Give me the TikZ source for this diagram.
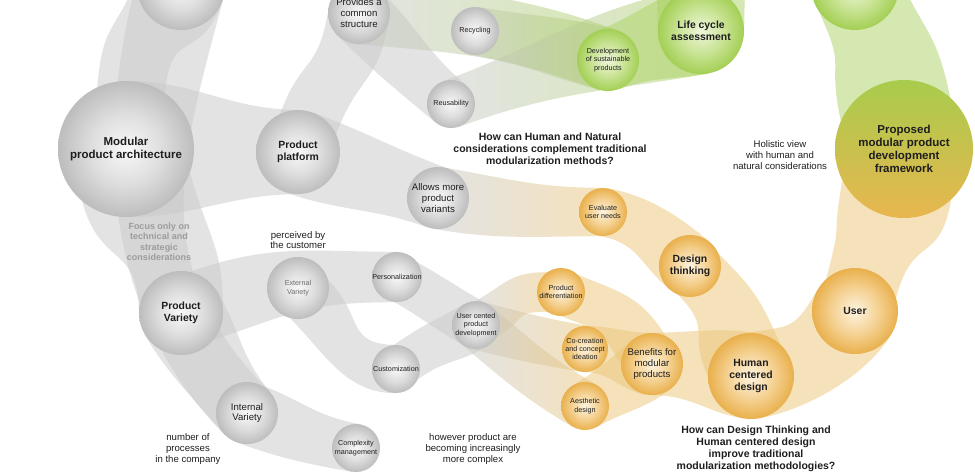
\documentclass[tikz,border=0pt]{standalone}
\usepackage{fontspec}
\setmainfont{Liberation Sans}
\usetikzlibrary{calc}

\definecolor{ink}{HTML}{1E1E1E}
\definecolor{greyhi}{HTML}{F8F8F8}
\definecolor{greymid}{HTML}{DEDEDE}
\definecolor{greylo}{HTML}{BDBDBD}
\definecolor{greenhi}{HTML}{EEF6DC}
\definecolor{greenmid}{HTML}{CAE496}
\definecolor{greenlo}{HTML}{A3CF54}
\definecolor{orangehi}{HTML}{FDF4E1}
\definecolor{orangemid}{HTML}{F5D396}
\definecolor{orangelo}{HTML}{E9B04C}
\definecolor{pfgreen}{HTML}{A8CC4C}
\definecolor{pfyellow}{HTML}{C9C24E}
\definecolor{pforange}{HTML}{E8B64F}
\definecolor{bandgrey}{RGB}{200,200,200}
\definecolor{bandgreen}{RGB}{172,210,100}
\definecolor{bandorange}{RGB}{235,197,119}
\definecolor{notegrey}{HTML}{9C9C9C}

\pgfdeclareradialshading{greyball}{\pgfpoint{0bp}{0bp}}{color(0bp)=(greyhi); color(13bp)=(greymid); color(25bp)=(greylo); color(50bp)=(greylo)}
\pgfdeclareradialshading{greenball}{\pgfpoint{0bp}{0bp}}{color(0bp)=(greenhi); color(13bp)=(greenmid); color(25bp)=(greenlo); color(50bp)=(greenlo)}
\pgfdeclareradialshading{orangeball}{\pgfpoint{0bp}{0bp}}{color(0bp)=(orangehi); color(13bp)=(orangemid); color(25bp)=(orangelo); color(50bp)=(orangelo)}

\pgfdeclarelayer{bands}
\pgfsetlayers{bands,main}

% ribbon between two circles: [style]{from}{to}{leave angle}{half spread}{arrive angle}{half spread}
\newcommand{\band}[7][greyband]{%
  \pgfmathtruncatemacro\bandAl{#4+#5}%
  \pgfmathtruncatemacro\bandAr{#4-#5}%
  \pgfmathtruncatemacro\bandBl{#6+#7}%
  \pgfmathtruncatemacro\bandBr{#6-#7}%
  \path[#1] let \p1=(#2.center), \p2=(#3.center),
      \n1={0.4*veclen(\x2-\x1,\y2-\y1)} in
    (#2.\bandAl) .. controls +(#4:\n1) and +(#6+180:\n1) .. (#3.\bandBl)
    -- (#3.\bandBr) .. controls +(#6+180:\n1) and +(#4:\n1) .. (#2.\bandAr) -- cycle;}

\begin{document}
\begin{tikzpicture}[
    x=1pt, y=1pt,
    greyband/.style={fill=bandgrey, fill opacity=0.5},
    greenband/.style={fill=bandgreen, fill opacity=0.5},
    orangeband/.style={fill=bandorange, fill opacity=0.5},
    togreen/.style={left color=bandgrey, right color=bandgreen, fill opacity=0.5},
    toorange/.style={left color=bandgrey, right color=bandorange, fill opacity=0.5},
    bub/.style={circle, inner sep=0pt, align=center, text=ink, minimum size=#1},
    greybub/.style={bub=#1, shade, shading=greyball},
    greenbub/.style={bub=#1, shade, shading=greenball},
    orangebub/.style={bub=#1, shade, shading=orangeball},
    framebub/.style={bub=138, top color=pfgreen, middle color=pfyellow, bottom color=pforange},
    hugetxt/.style={font=\fontsize{11.5}{13}\selectfont\bfseries},
    bigtxt/.style={font=\fontsize{10.4}{12}\selectfont\bfseries},
    midtxt/.style={font=\fontsize{9.6}{10.7}\selectfont},
    smalltxt/.style={font=\fontsize{7.2}{8.4}\selectfont},
    qtxt/.style={align=center, text=ink, font=\fontsize{10.5}{12}\selectfont\bfseries},
    notetxt/.style={align=center, text=ink, font=\fontsize{9.6}{10.7}\selectfont}
]
\useasboundingbox (0,0) rectangle (975,-472);
\clip (0,0) rectangle (975,-472);

% grey circles
\node[greybub=88] (upleft) at (181,14) {};
\node[greybub=62, midtxt] (common) at (359,-13) {Provides a\\common\\structure};
\node[greybub=48, smalltxt] (recyc) at (475,-31) {Recycling};
\node[greybub=48, smalltxt] (reuse) at (451,-104) {Reusability};
\node[greybub=136, hugetxt] (mpa) at (126,-149) {Modular\\product architecture};
\node[greybub=84, bigtxt] (platform) at (298,-152) {Product\\platform};
\node[greybub=62, midtxt] (variants) at (438,-198) {Allows more\\product\\variants};
\node[greybub=84, bigtxt] (variety) at (181,-313) {Product\\Variety};
\node[greybub=62, smalltxt, text=ink!65] (external) at (298,-288) {External\\Variety};
\node[greybub=50, smalltxt] (personal) at (397,-277) {Personalization};
\node[greybub=48, smalltxt] (custom) at (396,-369) {Customization};
\node[greybub=62, midtxt] (internal) at (247,-413) {Internal\\Variety};
\node[greybub=48, smalltxt] (complexity) at (356,-448) {Complexity\\management};
\node[greybub=48, smalltxt] (ucpd) at (476,-325) {User cented\\product\\development};

% green circles
\node[circle, minimum size=104] (lcasrc) at (700,140) {};
\node[greenbub=62, smalltxt] (sustain) at (608,-60) {Development\\of sustainable\\products};
\node[greenbub=86, bigtxt] (lca) at (701,-31) {Life cycle\\assessment};
\node[greenbub=88] (upright) at (855,14) {};
\node[framebub, hugetxt] (framework) at (904,-149) {Proposed\\modular product\\development\\framework};

% orange circles
\node[orangebub=48, smalltxt] (needs) at (603,-212) {Evaluate\\user needs};
\node[orangebub=62, bigtxt] (dthinking) at (690,-266) {Design\\thinking};
\node[orangebub=48, smalltxt] (differ) at (561,-292) {Product\\differentiation};
\node[orangebub=46, smalltxt] (cocreate) at (585,-349) {Co-creation\\and concept\\ideation};
\node[orangebub=48, smalltxt] (aesthetic) at (585,-406) {Aesthetic\\design};
\node[orangebub=62, midtxt] (benefits) at (652,-364) {Benefits for\\modular\\products};
\node[orangebub=86, bigtxt] (hcd) at (751,-376) {Human\\centered\\design};
\node[orangebub=86, bigtxt] (user) at (855,-311) {User};

% free text
\node[qtxt] (qnature) at (550,-149) {How can Human and Natural\\considerations complement traditional\\modularization methods?};
\node[qtxt] (qhuman) at (756,-449) {How can Design Thinking and\\Human centered design\\improve traditional\\modularization methodologies?};
\node[notetxt] (holistic) at (780,-155) {Holistic view\\with human and\\natural considerations};
\node[notetxt, text=notegrey, font=\fontsize{9}{10.5}\selectfont\bfseries] (focus) at (159,-242) {Focus only on\\technical and\\strategic\\considerations};
\node[notetxt] (perceived) at (298,-240) {perceived by\\the customer};
\node[notetxt] (processes) at (188,-449) {number of\\processes\\in the company};
\node[notetxt] (complex) at (473,-449) {however product are\\becoming increasingly\\more complex};

\begin{pgfonlayer}{bands}
\clip (0,0) rectangle (975,-472);
% grey ribbons
\band{upleft}{mpa}{-110}{90}{-95}{150}
\band{upleft}{internal}{-105}{90}{-45}{90}
\band{mpa}{variety}{-75}{55}{-90}{90}
\band{variety}{internal}{-60}{90}{-50}{90}
\band{internal}{complexity}{-20}{90}{-10}{90}
\band{mpa}{platform}{0}{90}{0}{90}
\band{platform}{variants}{-20}{90}{-20}{90}
\band{platform}{common}{70}{45}{80}{100}
\band{common}{reuse}{-45}{90}{-40}{90}
\band{variety}{personal}{19}{59}{0}{90}
\band{external}{custom}{-45}{60}{0}{90}
\band{personal}{ucpd}{-30}{66}{-30}{100}
\band{custom}{ucpd}{35}{60}{30}{90}
% grey into green
\band[togreen]{recyc}{sustain}{-10}{90}{-15}{90}
\band[togreen]{common}{sustain}{-5}{90}{-20}{90}
\band[togreen]{reuse}{lca}{20}{90}{10}{90}
% green
\band[greenband]{sustain}{lca}{20}{90}{10}{90}
\band[greenband]{lcasrc}{lca}{-90}{90}{-90}{90}
\band[greenband]{upright}{framework}{-65}{80}{-78}{126}
% grey into orange
\band[toorange]{variants}{needs}{-10}{90}{0}{90}
\band[toorange]{ucpd}{differ}{30}{60}{0}{125}
\band[toorange]{ucpd}{cocreate}{-15}{90}{-10}{90}
\band[toorange]{ucpd}{aesthetic}{-40}{90}{-30}{90}
% orange
\band[orangeband]{needs}{dthinking}{-10}{90}{-40}{90}
\band[orangeband]{dthinking}{hcd}{-45}{68}{-66}{113}
\band[orangeband]{differ}{benefits}{-22}{67}{-58}{122}
\band[orangeband]{cocreate}{benefits}{0}{90}{0}{90}
\band[orangeband]{aesthetic}{benefits}{30}{90}{40}{90}
\band[orangeband]{benefits}{hcd}{0}{90}{-10}{90}
\band[orangeband]{hcd}{user}{10}{90}{60}{90}
\band[orangeband]{user}{framework}{75}{57}{80}{127}
\end{pgfonlayer}
\end{tikzpicture}
\end{document}
